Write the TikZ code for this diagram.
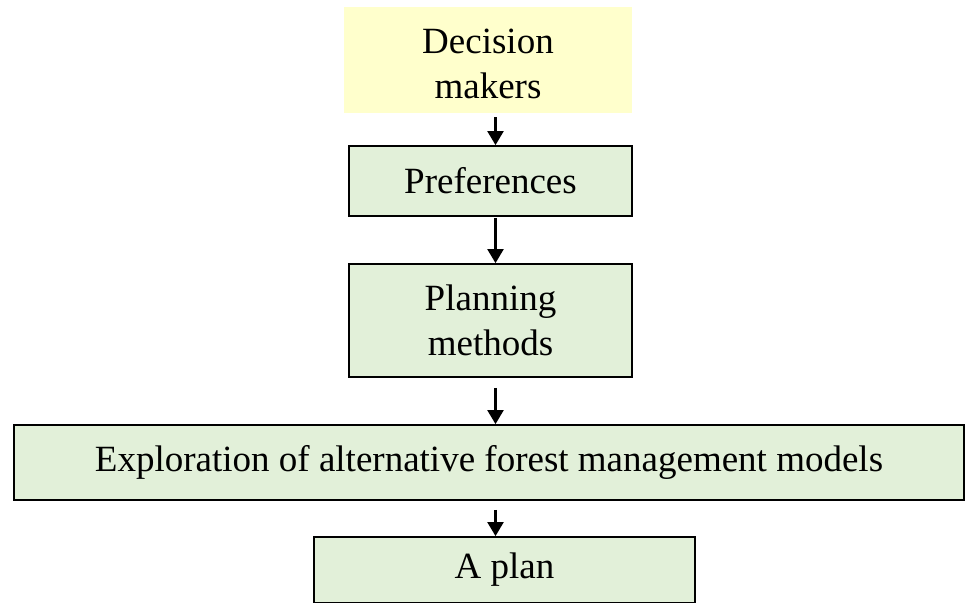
\documentclass[tikz,border=0pt]{standalone}
\usepackage{fontspec}
\setmainfont{Liberation Serif}
\usetikzlibrary{arrows.meta}
\definecolor{boxgreen}{RGB}{226,240,217}
\definecolor{boxyellow}{RGB}{255,255,204}
\tikzset{
  greenbox/.style={draw=black, line width=1.8pt, fill=boxgreen, inner sep=0pt, align=center,
    font=\fontsize{37}{44.5}\selectfont},
  yellowbox/.style={fill=boxyellow, draw=none, inner sep=0pt},
  txt/.style={inner sep=0pt, align=center, font=\fontsize{37}{44.5}\selectfont},
  arr/.style={line width=2.2pt, -{Triangle[length=14pt,width=16pt]}}
}
\begin{document}
\begin{tikzpicture}[x=1pt,y=-1pt]
\clip (0,0) rectangle (965,602);
\fill[white] (0,0) rectangle (965,602);
\node[yellowbox, minimum width=288pt, minimum height=106pt] (dm) at (488,60) {};
\node[txt] (dmt) at (488,64) {Decision\\makers};
\node[greenbox, minimum width=283pt, minimum height=70pt] (pref) at (490.5,181) {Preferences};
\node[greenbox, minimum width=283pt, minimum height=113pt] (pm) at (490.5,320.5) {Planning\\methods};
\node[greenbox, minimum width=950pt, minimum height=75pt] (expl) at (489,462.5) {Exploration of alternative forest management models};
\node[greenbox, minimum width=381pt, minimum height=66pt] (plan) at (504.5,570) {A plan};
\coordinate (ax) at (495.5,0);
\draw[arr, shorten <=4pt] (dm.south -| ax) -- (pref.north -| ax);
\draw[arr, shorten <=1pt] (pref.south -| ax) -- (pm.north -| ax);
\draw[arr, shorten <=10pt] (pm.south -| ax) -- (expl.north -| ax);
\draw[arr, shorten <=9pt] (expl.south -| ax) -- (plan.north -| ax);
\end{tikzpicture}
\end{document}
